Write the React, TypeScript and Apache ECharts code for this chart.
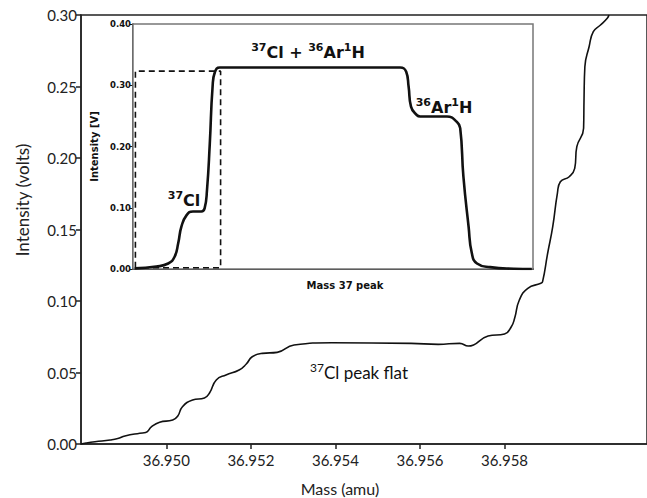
import React, { useEffect, useRef } from "react";
import * as echarts from "echarts";

// Main chart: mass (amu) vs intensity (volts)
const massValues = [
  36.94798, 36.9481, 36.94831, 36.94867, 36.94885, 36.94902, 36.94937, 36.94951,
  36.94965, 36.94984, 36.95015, 36.95027, 36.95038, 36.95062, 36.9509, 36.95102,
  36.95118, 36.95141, 36.95172, 36.95189, 36.95203, 36.95227, 36.95262, 36.95302,
  36.95391, 36.95579, 36.95643, 36.95694, 36.95714, 36.95761, 36.958, 36.95816,
  36.95824, 36.95835, 36.95855, 36.95886, 36.9589, 36.95902, 36.95914, 36.95925,
  36.95932, 36.95953, 36.95966, 36.95971, 36.95987, 36.95988, 36.9599, 36.96,
  36.9601, 36.96027, 36.96043, 36.96047,
];
const intensityValues = [
  0.0, 0.0007, 0.0016, 0.0028, 0.0038, 0.0056, 0.0075, 0.008,
  0.0121, 0.0152, 0.0168, 0.0196, 0.0261, 0.0308, 0.0322, 0.0357,
  0.0448, 0.0483, 0.0517, 0.0559, 0.061, 0.0634, 0.0641, 0.0692,
  0.0708, 0.0704, 0.0697, 0.0704, 0.0685, 0.0755, 0.0769, 0.082,
  0.0881, 0.1007, 0.1089, 0.1124, 0.1135, 0.1334, 0.152, 0.1753,
  0.1834, 0.1869, 0.1928, 0.2079, 0.2208, 0.2406, 0.2638, 0.2778,
  0.2883, 0.293, 0.2977, 0.3,
];
const massTicks = [36.95, 36.952, 36.954, 36.956, 36.958];
const massMin = 36.94798;
const massMax = 36.96137;

// Inset: Mass 37 peak (position across the peak, 0..100) vs intensity [V]
const peakPos = [
  0.4, 5.8, 8.8, 10.4, 11.3, 12.1, 13.4, 15.0, 17.1, 17.9, 18.5, 19.2, 19.9, 20.5,
  21.7, 66.8, 68.3, 68.9, 69.5, 71.0, 71.8, 78.5, 81.0, 81.8, 82.6, 83.9, 84.7,
  86.0, 89.3, 95.2, 99.7,
];
const peakIntensity = [
  0.001, 0.004, 0.009, 0.02, 0.042, 0.069, 0.088, 0.094, 0.094, 0.099, 0.129, 0.205,
  0.298, 0.322, 0.329, 0.329, 0.322, 0.298, 0.265, 0.251, 0.249, 0.249, 0.24, 0.23,
  0.151, 0.069, 0.026, 0.009, 0.003, 0.0005, 0,
];
// dashed box marking the 37Cl peak flat window
const boxPos = [0.6, 0.6, 21.9, 21.9, 0.6];
const boxIntensity = [0.002, 0.323, 0.323, 0.002, 0.002];

const MAIN_FONT = "Lato, 'Open Sans', sans-serif";
const INSET_FONT = "'DejaVu Sans', Verdana, sans-serif";

export default function App() {
  const ref = useRef<HTMLDivElement>(null);

  useEffect(() => {
    if (!ref.current) return;
    const chart = echarts.init(ref.current, null, { renderer: "svg" });

    const supRich = (size: number, supSize: number, weight: string, family: string) => ({
      m: { fontSize: size, fontWeight: weight, fontFamily: family, lineHeight: size + 4, fill: "#111" },
      s: {
        fontSize: supSize,
        fontWeight: weight,
        fontFamily: family,
        lineHeight: supSize + 2,
        verticalAlign: "top",
        fill: "#111",
      },
    });

    chart.setOption({
      animation: false,
      backgroundColor: "#fff",
      grid: [
        {
          left: 81,
          top: 15,
          width: 569,
          height: 429,
          show: true,
          borderColor: "#222",
          borderWidth: 1.5,
          backgroundColor: "transparent",
        },
        {
          left: 133,
          top: 24,
          width: 400,
          height: 245,
          show: true,
          borderColor: "#777",
          borderWidth: 1.5,
          backgroundColor: "#fff",
          z: 5,
        },
      ],
      xAxis: [
        {
          gridIndex: 0,
          type: "value",
          min: massMin,
          max: massMax,
          axisLine: { show: true, onZero: false, lineStyle: { color: "#222", width: 1.5 } },
          axisTick: {
            show: true,
            length: 5,
            customValues: massTicks,
            lineStyle: { color: "#222", width: 1.5 },
          },
          axisLabel: {
            customValues: massTicks,
            formatter: (v: number) => v.toFixed(3),
            fontFamily: MAIN_FONT,
            fontSize: 15,
            color: "#222",
            margin: 8,
          },
          splitLine: { show: false },
        },
        {
          gridIndex: 1,
          type: "value",
          min: 0,
          max: 100,
          axisLine: { show: true, onZero: false, lineStyle: { color: "#111", width: 2 } },
          axisTick: { show: false },
          axisLabel: { show: false },
          splitLine: { show: false },
        },
      ],
      yAxis: [
        {
          gridIndex: 0,
          type: "value",
          min: 0,
          max: 0.3,
          interval: 0.05,
          axisLine: { show: true, onZero: false, lineStyle: { color: "#222", width: 1.5 } },
          axisTick: { show: true, length: 5, lineStyle: { color: "#222", width: 1.5 } },
          axisLabel: {
            formatter: (v: number) => v.toFixed(2),
            fontFamily: MAIN_FONT,
            fontSize: 15,
            color: "#222",
            margin: 4,
          },
          splitLine: { show: false },
        },
        {
          gridIndex: 1,
          type: "value",
          min: 0,
          max: 0.4,
          interval: 0.1,
          axisLine: { show: true, onZero: false, lineStyle: { color: "#111", width: 1.5 } },
          axisTick: { show: true, length: 3, lineStyle: { color: "#111", width: 1 } },
          axisLabel: {
            formatter: (v: number) => v.toFixed(2),
            fontFamily: INSET_FONT,
            fontWeight: "bold",
            fontSize: 8.5,
            color: "#111",
            margin: 2,
          },
          splitLine: { show: false },
          name: "Intensity [V]",
          nameLocation: "middle",
          nameGap: 30,
          nameTextStyle: {
            fontFamily: INSET_FONT,
            fontWeight: "bold",
            fontSize: 10,
            color: "#111",
          },
        },
      ],
      series: [
        {
          type: "line",
          xAxisIndex: 0,
          yAxisIndex: 0,
          data: massValues.map((m, i) => [m, intensityValues[i]]),
          showSymbol: false,
          smooth: 0.5,
          lineStyle: { color: "#111", width: 1.6 },
          z: 2,
        },
        {
          type: "line",
          xAxisIndex: 1,
          yAxisIndex: 1,
          data: peakPos.map((p, i) => [p, peakIntensity[i]]),
          showSymbol: false,
          smooth: 0.5,
          lineStyle: { color: "#111", width: 2.6 },
          z: 6,
        },
        {
          type: "line",
          xAxisIndex: 1,
          yAxisIndex: 1,
          data: boxPos.map((p, i) => [p, boxIntensity[i]]),
          showSymbol: false,
          lineStyle: { color: "#111", width: 1.6, type: [6, 4] },
          z: 6,
        },
      ],
      graphic: [
        {
          type: "text",
          x: 22,
          y: 200,
          rotation: Math.PI / 2,
          style: {
            text: "Intensity (volts)",
            font: `17px ${MAIN_FONT}`,
            fill: "#222",
            align: "center",
            verticalAlign: "middle",
          },
        },
        {
          type: "text",
          x: 340,
          y: 488,
          style: {
            text: "Mass (amu)",
            font: `16px ${MAIN_FONT}`,
            fill: "#222",
            align: "center",
            verticalAlign: "middle",
          },
        },
        {
          type: "text",
          x: 359,
          y: 372,
          style: {
            text: "{s|37}{m|Cl peak flat}",
            rich: supRich(17, 12, "normal", MAIN_FONT),
            align: "center",
            verticalAlign: "middle",
          },
        },
        {
          type: "text",
          x: 345,
          y: 285,
          z: 10,
          style: {
            text: "Mass 37 peak",
            font: `bold 10px ${INSET_FONT}`,
            fill: "#111",
            align: "center",
            verticalAlign: "middle",
          },
        },
        {
          type: "text",
          x: 308,
          y: 52,
          z: 10,
          style: {
            text: "{s|37}{m|Cl + }{s|36}{m|Ar}{s|1}{m|H}",
            rich: supRich(16, 11, "bold", INSET_FONT),
            align: "center",
            verticalAlign: "middle",
          },
        },
        {
          type: "text",
          x: 444,
          y: 107,
          z: 10,
          style: {
            text: "{s|36}{m|Ar}{s|1}{m|H}",
            rich: supRich(16, 11, "bold", INSET_FONT),
            align: "center",
            verticalAlign: "middle",
          },
        },
        {
          type: "text",
          x: 184,
          y: 200,
          z: 10,
          style: {
            text: "{s|37}{m|Cl}",
            rich: supRich(16, 11, "bold", INSET_FONT),
            align: "center",
            verticalAlign: "middle",
          },
        },
      ],
    });

    return () => chart.dispose();
  }, []);

  return (
    <div
      ref={ref}
      style={{ position: "fixed", left: 0, top: 0, width: 647, height: 498 }}
    />
  );
}
